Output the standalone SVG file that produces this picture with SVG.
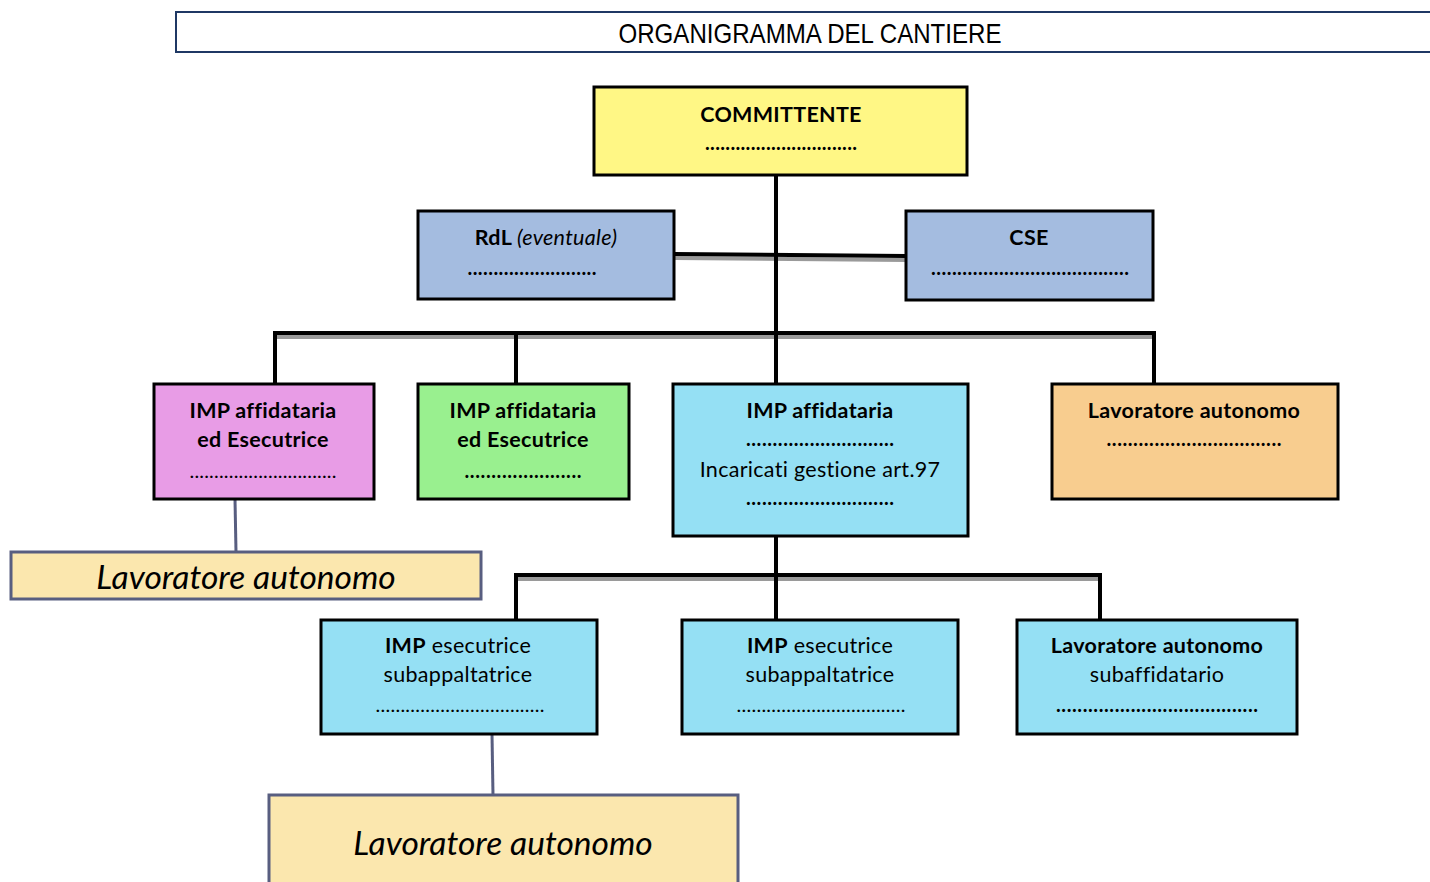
<svg xmlns="http://www.w3.org/2000/svg" width="1430" height="882" viewBox="0 0 1430 882">
<style>
.box{stroke:#000;stroke-width:3}
.t{font-family:Lato,"Open Sans","Liberation Sans",sans-serif;font-size:21.5px;letter-spacing:0.3px;fill:#000;text-anchor:middle}
.b{font-weight:bold}
.d{font-family:Lato,"Liberation Sans",sans-serif;font-size:20px;font-weight:bold;text-anchor:middle}
.dl{font-family:Lato,"Liberation Sans",sans-serif;font-size:20px;text-anchor:middle}
.cn{stroke:#000;stroke-width:4;fill:none}
.sh{stroke:#9a9a9a;stroke-width:4;fill:none}
.gl{stroke:#585e80;stroke-width:3;fill:none}
.la{fill:#fbe7ae;stroke:#585e80;stroke-width:3}
.it{font-family:Lato,"Open Sans",sans-serif;font-style:italic;font-size:33.5px;text-anchor:middle}
</style>
<rect width="1430" height="882" fill="#fff"/>
<g id="title">
<rect x="176" y="12" width="1270" height="40" fill="#fff" stroke="#1f3864" stroke-width="2"/>
<text x="810" y="43" font-family="'Liberation Sans',Arial,sans-serif" font-size="28" text-anchor="middle" textLength="383" lengthAdjust="spacingAndGlyphs">ORGANIGRAMMA DEL CANTIERE</text>
</g>
<g id="connectors">
<path class="sh" d="M674 258 L906 260"/>
<path class="cn" d="M674 254 L906 256"/>
<path class="sh" d="M275 337 H1155"/>
<path class="cn" d="M776 175 V384"/>
<path class="cn" d="M275 384 V333 H1154 V384"/>
<path class="cn" d="M516 333 V384"/>
<path class="sh" d="M516 579 H1100"/>
<path class="cn" d="M776 536 V620"/>
<path class="cn" d="M516 620 V575 H1100 V620"/>
<path class="gl" d="M235 499 L236 552"/>
<path class="gl" d="M492 734 L493 795"/>
</g>
<g id="committente">
<rect class="box" x="594" y="87" width="373" height="88" fill="#fff785"/>
<text class="t b" x="781" y="122">COMMITTENTE</text>
<text class="d" x="781" y="150" textLength="152" lengthAdjust="spacing">..............................</text>
</g>
<g id="rdl">
<rect class="box" x="418" y="211" width="256" height="88" fill="#a4bce0"/>
<text class="t" x="546" y="245"><tspan font-weight="bold">RdL </tspan><tspan font-style="italic">(eventuale)</tspan></text>
<text class="d" x="532" y="275" textLength="129" lengthAdjust="spacing">.........................</text>
</g>
<g id="cse">
<rect class="box" x="906" y="211" width="247" height="89" fill="#a4bce0"/>
<text class="t b" x="1029" y="245">CSE</text>
<text class="d" x="1030" y="275" textLength="198" lengthAdjust="spacing">......................................</text>
</g>
<g id="imp-pink">
<rect class="box" x="154" y="384" width="220" height="115" fill="#e89ce6"/>
<text class="t b" x="263" y="418">IMP affidataria</text>
<text class="t b" x="263" y="447">ed Esecutrice</text>
<text class="dl" x="263" y="478" textLength="147" lengthAdjust="spacing">..............................</text>
</g>
<g id="imp-green">
<rect class="box" x="418" y="384" width="211" height="115" fill="#99f08f"/>
<text class="t b" x="523" y="418">IMP affidataria</text>
<text class="t b" x="523" y="447">ed Esecutrice</text>
<text class="d" x="523" y="478" textLength="117" lengthAdjust="spacing">......................</text>
</g>
<g id="imp-affidataria">
<rect class="box" x="673" y="384" width="295" height="152" fill="#95e0f4"/>
<text class="t b" x="820" y="418">IMP affidataria</text>
<text class="d" x="820" y="446" textLength="148" lengthAdjust="spacing">............................</text>
<text class="t" x="820" y="477">Incaricati gestione art.97</text>
<text class="d" x="820" y="505" textLength="148" lengthAdjust="spacing">............................</text>
</g>
<g id="lav-orange">
<rect class="box" x="1052" y="384" width="286" height="115" fill="#f8cd8f"/>
<text class="t b" x="1194" y="418">Lavoratore autonomo</text>
<text class="d" x="1194" y="446" textLength="175" lengthAdjust="spacing">.................................</text>
</g>
<g id="lav-1">
<rect class="la" x="11" y="552" width="470" height="47"/>
<text class="it" x="246" y="589">Lavoratore autonomo</text>
</g>
<g id="imp-esec-1">
<rect class="box" x="321" y="620" width="276" height="114" fill="#95e0f4"/>
<text class="t" x="458" y="653"><tspan font-weight="bold">IMP</tspan> esecutrice</text>
<text class="t" x="458" y="682">subappaltatrice</text>
<text class="dl" x="460" y="712" textLength="169" lengthAdjust="spacing">..................................</text>
</g>
<g id="imp-esec-2">
<rect class="box" x="682" y="620" width="276" height="114" fill="#95e0f4"/>
<text class="t" x="820" y="653"><tspan font-weight="bold">IMP</tspan> esecutrice</text>
<text class="t" x="820" y="682">subappaltatrice</text>
<text class="dl" x="821" y="712" textLength="169" lengthAdjust="spacing">..................................</text>
</g>
<g id="lav-sub">
<rect class="box" x="1017" y="620" width="280" height="114" fill="#95e0f4"/>
<text class="t b" x="1157" y="653">Lavoratore autonomo</text>
<text class="t" x="1157" y="682">subaffidatario</text>
<text class="d" x="1157" y="712" textLength="202" lengthAdjust="spacing">......................................</text>
</g>
<g id="lav-2">
<rect class="la" x="269" y="795" width="469" height="100"/>
<text class="it" x="503" y="855">Lavoratore autonomo</text>
</g>
</svg>
